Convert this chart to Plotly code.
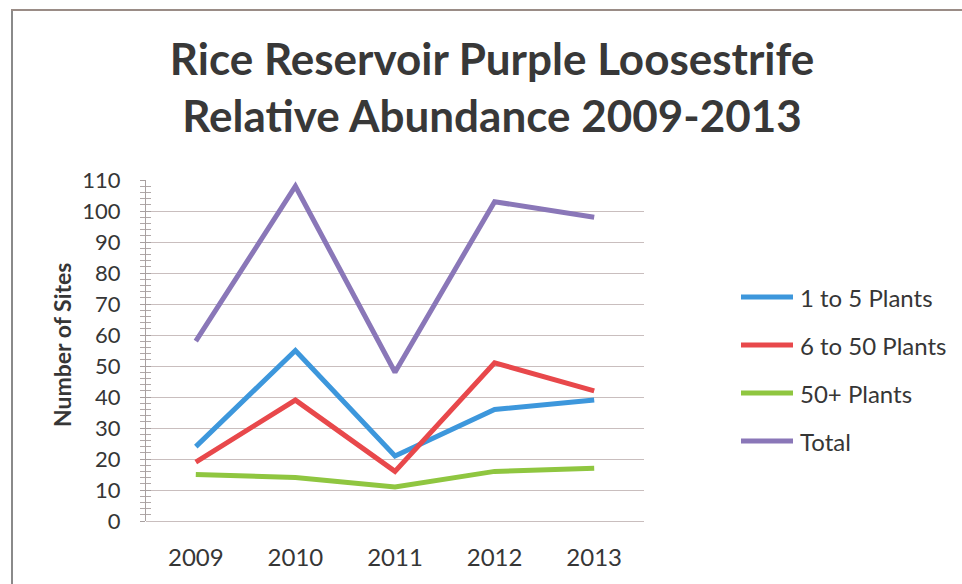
import plotly.graph_objects as go

years = ["2009", "2010", "2011", "2012", "2013"]
plants_1_5 = [24, 55, 21, 36, 39]
plants_6_50 = [19, 39, 16, 51, 42]
plants_50p = [15, 14, 11, 16, 17]
total = [58, 108, 48, 103, 98]

series_names = ["1 to 5 Plants", "6 to 50 Plants", "50+ Plants", "Total"]
series_values = [plants_1_5, plants_6_50, plants_50p, total]
colors = ["#3d97dc", "#e8484b", "#8fc640", "#8a77b8"]

y_ticks = list(range(0, 111, 10))

W, H = 962, 584
L, R, T, B = 146, 644, 180, 521  # plot area pixels

def px(xp):
    return (xp - L) / (R - L)

def py(yp):
    return (B - yp) / (B - T)

fig = go.Figure()
for i, (name, vals, c) in enumerate(zip(series_names, series_values, colors)):
    fig.add_trace(go.Scatter(
        x=years, y=vals, name=name, mode="lines",
        line=dict(color=c, width=5),
        showlegend=False,
    ))

font_family = "Lato, 'Open Sans', sans-serif"
grid_color = "#c9bebe"
text_color = "#363636"

fig.update_layout(
    width=W, height=H,
    margin=dict(l=L, r=W - R, t=T, b=H - B, pad=0),
    paper_bgcolor="white", plot_bgcolor="white",
    font=dict(family=font_family, color=text_color),
    title=dict(
        text="<b>Rice Reservoir Purple Loosestrife<br>Relative Abundance 2009-2013</b>",
        x=492 / W, xanchor="center", xref="container",
        y=1 - 75 / H, yanchor="top", yref="container",
        font=dict(size=44, color="#383838", family=font_family),
    ),
    xaxis=dict(
        type="category", range=[-0.5, 4.5],
        showgrid=False, showline=False, zeroline=False,
        ticks="", tickfont=dict(size=24, color=text_color),
        ticklabelstandoff=20,
    ),
    yaxis=dict(
        range=[0, 110], tickvals=y_ticks,
        showgrid=True, gridcolor=grid_color, gridwidth=1,
        zeroline=True, zerolinecolor=grid_color, zerolinewidth=1,
        showline=True, linecolor="#a8a0a0", linewidth=1,
        ticks="outside", ticklen=5, tickcolor="#a8a0a0",
        minor=dict(dtick=2, ticks="outside", ticklen=5, tickcolor="#b0a8a8", showgrid=False),
        tickfont=dict(size=22, color=text_color),
        ticklabelstandoff=15,
    ),
    yaxis2=dict(
        range=[0, 110], overlaying="y", side="left", anchor="x",
        showgrid=False, zeroline=False, showline=False,
        tickvals=y_ticks, ticks="inside", ticklen=5, tickcolor="#a8a0a0",
        minor=dict(dtick=2, ticks="inside", ticklen=5, tickcolor="#b0a8a8", showgrid=False),
        showticklabels=False,
    ),
    showlegend=False,
)

# dummy invisible trace to activate yaxis2 ticks
fig.add_trace(go.Scatter(x=years, y=[None] * len(years), yaxis="y2",
                         showlegend=False, hoverinfo="skip"))

fig.add_annotation(
    text="<b>Number of Sites</b>", textangle=-90,
    x=px(62), y=py(345), xref="paper", yref="paper",
    xanchor="center", yanchor="middle", showarrow=False,
    font=dict(size=23, color=text_color, family=font_family),
)

# legend (drawn as swatch lines + labels)
legend_rows = [297, 345, 393, 441]
for name, c, ry in zip(series_names, colors, legend_rows):
    fig.add_shape(type="line", xref="paper", yref="paper",
                  x0=px(741), x1=px(793), y0=py(ry), y1=py(ry),
                  line=dict(color=c, width=5))
    fig.add_annotation(text=name, x=px(798), y=py(ry), xref="paper", yref="paper",
                       xanchor="left", yanchor="middle", showarrow=False,
                       font=dict(size=24, color=text_color, family=font_family))

# outer chart border (left and top edges)
fig.add_shape(type="line", xref="paper", yref="paper",
              x0=px(12), x1=px(12), y0=py(10), y1=py(600),
              line=dict(color="#8a8a8a", width=2))
fig.add_shape(type="line", xref="paper", yref="paper",
              x0=px(11), x1=px(980), y0=py(10), y1=py(10),
              line=dict(color="#9a8c86", width=2))

fig.write_html("out.html")
